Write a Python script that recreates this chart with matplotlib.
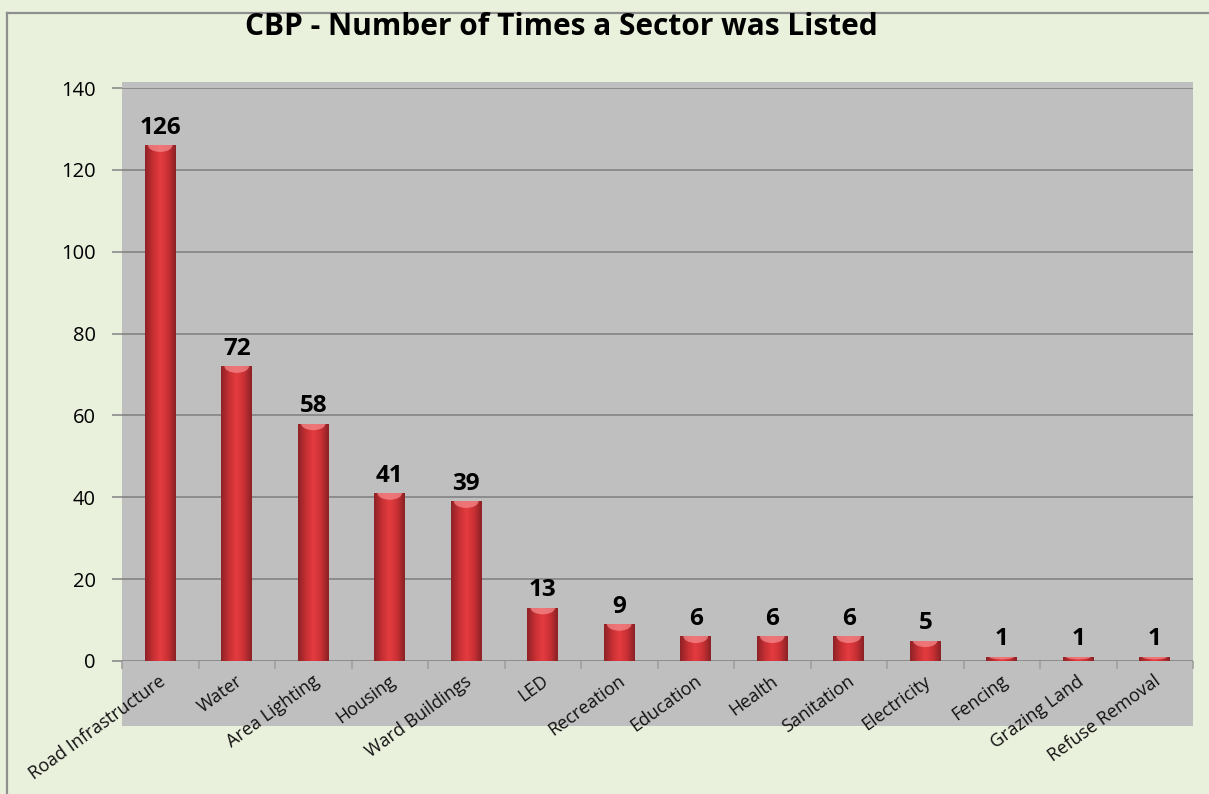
import numpy as np
import matplotlib
matplotlib.use("Agg")
import matplotlib.pyplot as plt
from matplotlib.patches import Rectangle, Ellipse
from matplotlib.lines import Line2D
from matplotlib.colors import LinearSegmentedColormap

sectors = ["Road Infrastructure", "Water", "Area Lighting", "Housing", "Ward Buildings", "LED",
           "Recreation", "Education", "Health", "Sanitation", "Electricity", "Fencing",
           "Grazing Land", "Refuse Removal"]
counts = [126, 72, 58, 41, 39, 13, 9, 6, 6, 6, 5, 1, 1, 1]
yticks = [0, 20, 40, 60, 80, 100, 120, 140]

BG = "#E9F0DC"
WALL = "#BFBFBF"
GRID = "#8C8C8C"
plt.rcParams.update({"font.family": ["Open Sans", "DejaVu Sans"]})

W, H = 1209, 794
fig = plt.figure(figsize=(W / 100, H / 100), dpi=100, facecolor=BG)

# grey chart wall behind the plot, a bit taller than the axes
fig.patches.append(Rectangle((122 / W, 1 - 726 / H), 1071 / W, (726 - 82) / H,
                             transform=fig.transFigure, facecolor=WALL, edgecolor="none", zorder=0))
# outer frame (top + left edges visible)
fig.add_artist(Line2D([7 / W, 1], [1 - 13 / H, 1 - 13 / H], transform=fig.transFigure, color="#8f8f8f", lw=1.6))
fig.add_artist(Line2D([7 / W, 7 / W], [0, 1 - 13 / H], transform=fig.transFigure, color="#8f8f8f", lw=1.6))

ax = fig.add_axes([122 / W, 1 - 661 / H, 1071 / W, (661 - 88) / H])
ax.set_facecolor("none")
ax.set_zorder(1)
x = np.arange(len(sectors))
ax.set_xlim(-0.5, len(sectors) - 0.5)
ax.set_ylim(0, 140)

for s in ax.spines.values():
    s.set_visible(False)
ax.set_yticks(yticks)
ax.set_yticklabels([str(v) for v in yticks], fontsize=14.5)
for v in yticks:
    ax.axhline(v, color=GRID, lw=1.4, zorder=1)
ax.tick_params(axis="y", length=7, width=1.2, color=GRID, pad=12)
ax.set_xticks(np.arange(len(sectors) + 1) - 0.5)
ax.set_xticklabels([])
ax.tick_params(axis="x", length=6, width=1.2, color="#a0a0a0")

# cylinder-ish bars: horizontal gradient clipped to each bar, lighter cap on top
cyl = LinearSegmentedColormap.from_list("cyl", ["#8e2226", "#c52f33", "#e53c40", "#c93034", "#8a2125"])
grad = np.linspace(0, 1, 64).reshape(1, -1)
bars = ax.bar(x, counts, width=0.4, color="#d23236", zorder=2)
for b in bars:
    x0, w, h = b.get_x(), b.get_width(), b.get_height()
    im = ax.imshow(grad, cmap=cyl, aspect="auto", extent=(x0, x0 + w, 0, h), zorder=3, interpolation="bicubic")
    im.set_clip_path(b)
    cap = min(1.6, h * 0.6)
    e = Ellipse((x0 + w / 2, h), w * 0.8, cap * 2, facecolor="#f58a8c", edgecolor="none", alpha=0.75, zorder=4)
    ax.add_patch(e)
    e.set_clip_path(b)

for xi, v in zip(x, counts):
    ax.annotate(str(v), (xi, v), xytext=(0, 4), textcoords="offset points", ha="center", va="bottom",
                fontsize=17.5, fontweight="bold", color="black")

for xi, name in zip(x, sectors):
    ax.text(xi + 0.05, -4.5, name, rotation=36, rotation_mode="anchor", ha="right", va="center",
            fontsize=13, color="#111111", zorder=5)

fig.text(561 / W, 1 - 27 / H, "CBP - Number of Times a Sector was Listed", ha="center", va="center",
         fontsize=21.5, fontweight="bold", color="black")

fig.savefig("out.png", dpi=100, facecolor=BG)
